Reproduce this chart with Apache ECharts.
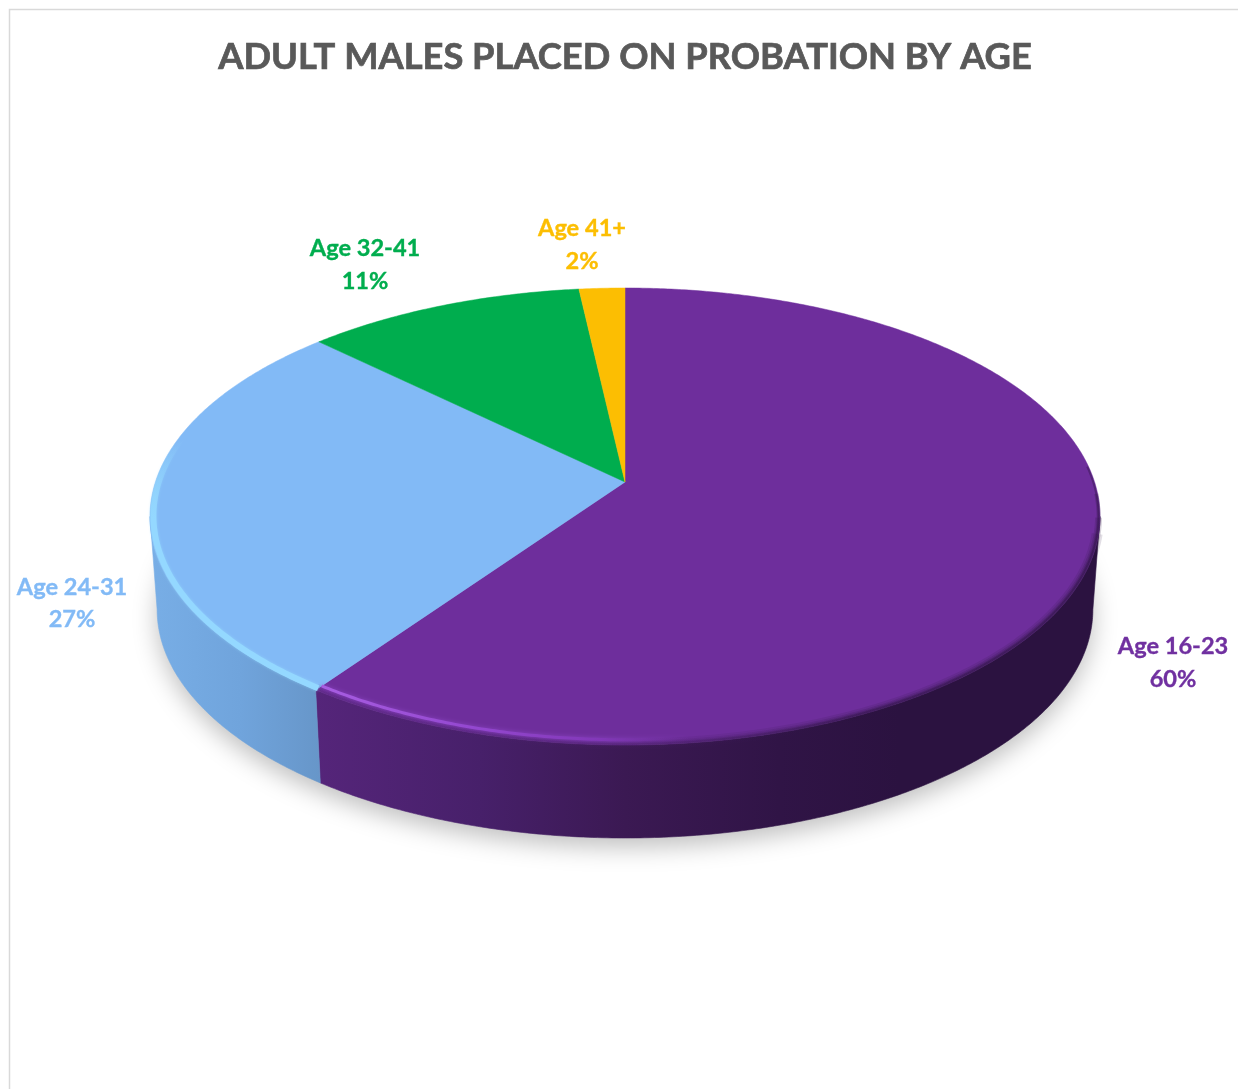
<!DOCTYPE html>
<html>
<head>
<meta charset="utf-8">
<style>html,body{margin:0;padding:0;background:#fff}#c{width:1238px;height:1089px}</style>
<script src="https://cdn.jsdelivr.net/npm/echarts@6/dist/echarts.min.js"></script>
</head>
<body>
<div id="c"></div>
<script>
const titleText = 'ADULT MALES PLACED ON PROBATION BY AGE';
const categories = ['Age 16-23', 'Age 24-31', 'Age 32-41', 'Age 41+'];
const shares = [59.8, 27.4, 11.0, 1.8];
const percentLabels = ['60%', '27%', '11%', '2%'];

const faceColors = ['#6e2e9c', '#82baf6', '#00ad4e', '#fcbe02'];
const labelColors = ['#7030a0', '#82baf6', '#00ad4e', '#fcbe02'];
const labelAnchors = [[1173, 646.5], [72, 587], [365, 248.5], [582, 228.5]];
const labelLineGap = 32.5;
const labelFont = 'bold 23.6px Lato, "Open Sans", sans-serif';

// Perspective of the disc
const CX = 625, APEX_Y = 482, TOP_UP = 194, TOP_DOWN = 263, MAX_RX = 475;
const DEPTH = 93, BOTTOM_SCALE = 0.985;
const C = (TOP_UP - TOP_DOWN) / (TOP_UP + TOP_DOWN);
const A = TOP_UP + (APEX_Y - TOP_UP) * C;
const D = MAX_RX * Math.sqrt(1 - C * C);
const VIS_FROM = Math.acos(C) * 180 / Math.PI;
const VIS_TO = 360 - VIS_FROM;

function rim(deg, r) {
  const t = deg * Math.PI / 180;
  const u = r * Math.sin(t), v = -r * Math.cos(t);
  const w = 1 + C * v;
  return [CX + D * u / w, (A * v + APEX_Y) / w];
}
function base(deg) {
  const p = rim(deg, 1);
  return [CX + (p[0] - CX) * BOTTOM_SCALE, p[1] + DEPTH];
}
function arc(from, to, fn) {
  const pts = [], n = Math.max(2, Math.ceil(Math.abs(to - from) * 2));
  for (let i = 0; i <= n; i++) pts.push(fn(from + (to - from) * i / n));
  return pts;
}
const hGrad = stops => ({ type: 'linear', x: 0, y: 0, x2: 1238, y2: 0, global: true,
  colorStops: stops.map(s => ({ offset: s[0] / 1238, color: s[1] })) });
const vGrad = stops => ({ type: 'linear', x: 0, y: 0, x2: 0, y2: 1089, global: true,
  colorStops: stops.map(s => ({ offset: s[0] / 1089, color: s[1] })) });

const wallFills = [
  hGrad([[316, '#55257a'], [480, '#47206a'], [625, '#3b1953'], [780, '#301446'], [900, '#2b1240'], [1100, '#2b1240']]),
  hGrad([[150, '#78aee6'], [240, '#70a4dc'], [320, '#6796c9']])
];
const rimLights = [
  hGrad([[316, '#a85ee2'], [470, '#9448d0'], [600, '#8238b8'], [690, 'rgba(112,48,160,0)'], [1238, 'rgba(112,48,160,0)']]),
  vGrad([[440, 'rgba(150,220,255,0)'], [520, '#94d8ff'], [700, '#94d8ff']])
];
const purpleBlend = hGrad([[316, 'rgba(84,38,122,0.55)'], [625, 'rgba(70,30,100,0.6)'], [850, 'rgba(43,18,64,0.8)'], [1238, 'rgba(43,18,64,0.9)']]);

let cum = 0;
const sectorData = shares.map((v, i) => {
  const s = cum; cum += v;
  return [s, cum, i];
});

function renderSector(params, api) {
  const i = api.value(2);
  const from = api.value(0) * 3.6, to = api.value(1) * 3.6;
  const kids = [];
  if (i === 0) {
    kids.push({
      type: 'polygon', z2: 1, silent: true,
      shape: { points: arc(0, 360, base) },
      style: { fill: '#d8d8d8', shadowBlur: 24, shadowColor: 'rgba(0,0,0,0.25)', shadowOffsetY: 9 }
    });
  }
  const wf = Math.max(from, VIS_FROM), wt = Math.min(to, VIS_TO);
  if (wf < wt) {
    kids.push({
      type: 'polygon', z2: 2,
      shape: { points: arc(wf, wt, d => rim(d, 1)).concat(arc(wt, wf, base)) },
      style: { fill: wallFills[i], stroke: wallFills[i], lineWidth: 0.6 }
    });
  }
  kids.push({
    type: 'polygon', z2: 3,
    shape: { points: [[CX, APEX_Y]].concat(arc(from, to, d => rim(d, 1))) },
    style: { fill: faceColors[i], stroke: faceColors[i], lineWidth: 0.5 }
  });
  if (i === 0) {
    [[86, 2, 0.45], [93, 4, 0.3], [99, 7, 0.22], [103, 11, 0.16]].forEach(b => {
      kids.push({ type: 'polyline', z2: 4, silent: true,
        shape: { points: arc(b[0], to, d => rim(d, 0.997)) },
        style: { fill: 'none', stroke: purpleBlend, lineWidth: b[1], opacity: b[2] } });
    });
    kids.push({ type: 'polyline', z2: 5, silent: true,
      shape: { points: arc(wf + 70, to, d => rim(d, 0.983)) },
      style: { fill: 'none', stroke: rimLights[0], lineWidth: 3, shadowBlur: 4, shadowColor: 'rgba(154,80,216,0.6)' } });
  }
  if (i === 1) {
    kids.push({ type: 'polyline', z2: 5, silent: true,
      shape: { points: arc(from, wt + 30, d => rim(d, 0.993)) },
      style: { fill: 'none', stroke: rimLights[1], lineWidth: 6, shadowBlur: 3, shadowColor: 'rgba(150,220,255,0.6)' } });
  }
  const anchor = labelAnchors[i];
  const textStyle = { fill: labelColors[i], font: labelFont, textAlign: 'center', textVerticalAlign: 'middle', stroke: labelColors[i], lineWidth: 0.35 };
  kids.push({ type: 'text', z2: 9, style: Object.assign({ text: categories[i], x: anchor[0], y: anchor[1] }, textStyle) });
  kids.push({ type: 'text', z2: 9, style: Object.assign({ text: percentLabels[i], x: anchor[0], y: anchor[1] + labelLineGap }, textStyle) });
  return { type: 'group', children: kids };
}

const chart = echarts.init(document.getElementById('c'), null, { renderer: 'canvas', width: 1238, height: 1089 });
chart.setOption({
  animation: false,
  backgroundColor: '#ffffff',
  title: {
    text: titleText, left: 620, top: 34, textAlign: 'center',
    textStyle: { color: '#595959', fontFamily: 'Lato, "Open Sans", sans-serif', fontWeight: 'bold', fontSize: 36.3, textBorderColor: '#595959', textBorderWidth: 0.7 }
  },
  graphic: [{
    type: 'rect', silent: true, z: -1,
    shape: { x: 9.5, y: 9.5, width: 1400, height: 1300 },
    style: { fill: 'none', stroke: '#d9d9d9', lineWidth: 1.5 }
  }],
  series: [{
    type: 'custom',
    coordinateSystem: 'none',
    renderItem: renderSector,
    data: sectorData,
    clip: false
  }]
});
</script>
</body>
</html>
